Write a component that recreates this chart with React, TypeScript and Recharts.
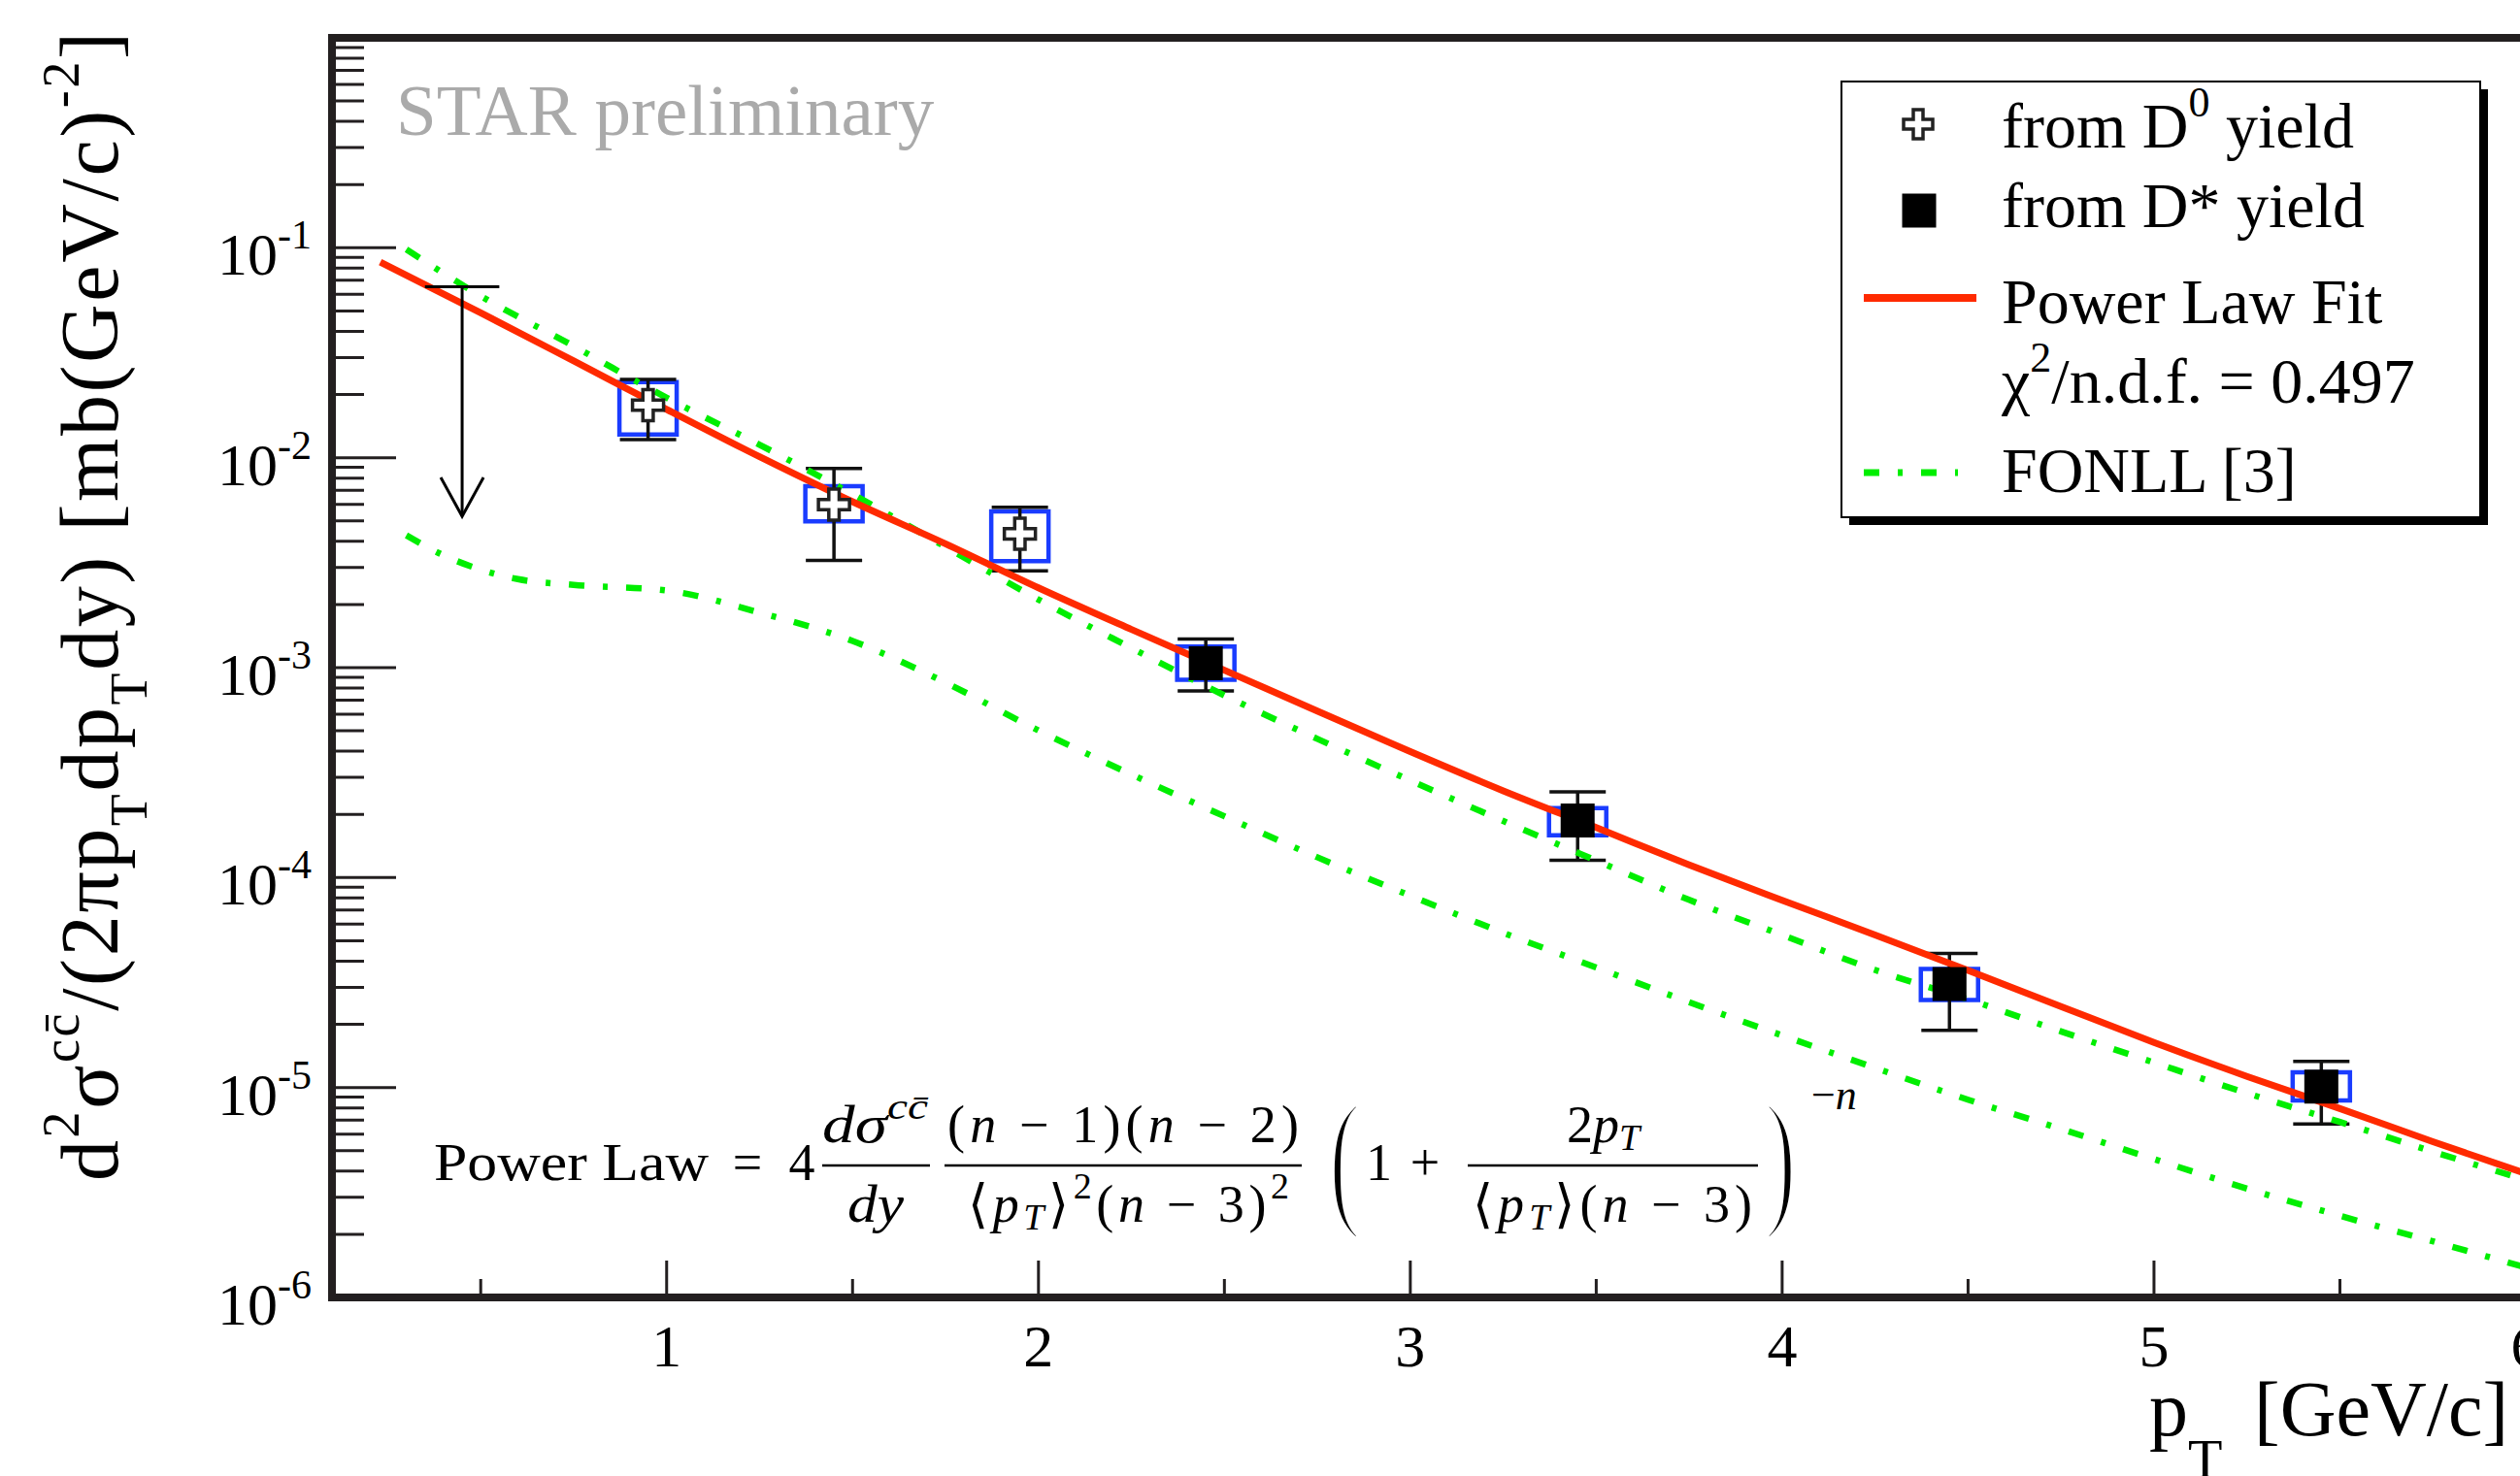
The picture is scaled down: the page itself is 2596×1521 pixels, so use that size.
import React from 'react';
import {
  ComposedChart,
  Line,
  Scatter,
  XAxis,
  YAxis,
  ErrorBar,
  ReferenceArea,
  ReferenceLine,
  Legend,
  Label,
} from 'recharts';

// charm cross section points from D0 yield (open crosses)
const d0Pt = [0.95, 1.45, 1.95];
const d0Val = [1.78e-2, 5.98e-3, 4.34e-3];
const d0StatLo = [1.22e-2, 3.24e-3, 2.89e-3];
const d0StatHi = [2.36e-2, 8.89e-3, 5.81e-3];
const d0SysLo = [1.29e-2, 4.97e-3, 3.22e-3];
const d0SysHi = [2.29e-2, 7.31e-3, 5.55e-3];

// points from D* yield (filled squares)
const dStarPt = [2.45, 3.45, 4.45, 5.45];
const dStarVal = [1.05e-3, 1.87e-4, 3.11e-5, 1.01e-5];
const dStarStatLo = [7.74e-4, 1.21e-4, 1.87e-5, 6.71e-6];
const dStarStatHi = [1.37e-3, 2.56e-4, 4.35e-5, 1.33e-5];
const dStarSysLo = [8.75e-4, 1.59e-4, 2.61e-5, 8.67e-6];
const dStarSysHi = [1.26e-3, 2.14e-4, 3.67e-5, 1.18e-5];

// upper limit in the lowest bin
const limitPt = 0.45;
const limitHalfBin = 0.1;
const limitTop = 6.52e-2;
const limitTip = 5.26e-3;

// power law fit curve
const fitPt = [0.23, 0.5, 0.75, 1, 1.25, 1.5, 1.75, 2, 2.25, 2.5, 2.75, 3, 3.25, 3.5, 3.75, 4, 4.25, 4.5, 4.75, 5, 5.25, 5.5, 5.75, 6];
const fitVal = [8.55e-2, 4.9e-2, 2.89e-2, 1.7e-2, 1.01e-2, 6.17e-3, 3.89e-3, 2.4e-3, 1.52e-3, 9.72e-4, 6.21e-4, 3.98e-4, 2.59e-4, 1.73e-4, 1.15e-4, 7.8e-5, 5.33e-5, 3.61e-5, 2.43e-5, 1.64e-5, 1.13e-5, 7.94e-6, 5.52e-6, 3.89e-6];

// FONLL band edges
const fonllHiPt = [0.3, 0.5, 0.75, 1, 1.25, 1.5, 1.75, 2, 2.25, 2.5, 2.75, 3, 3.25, 3.5, 3.75, 4, 4.25, 4.5, 4.75, 5, 5.25, 5.5, 5.75, 6];
const fonllHiVal = [9.82e-2, 5.89e-2, 3.4e-2, 1.93e-2, 1.153e-2, 6.7e-3, 3.76e-3, 2.11e-3, 1.24e-3, 7.38e-4, 4.58e-4, 2.9e-4, 1.86e-4, 1.205e-4, 7.83e-5, 5.33e-5, 3.63e-5, 2.63e-5, 1.85e-5, 1.315e-5, 9.4e-6, 6.85e-6, 4.95e-6, 3.63e-6];
const fonllLoPt = [0.3, 0.4, 0.5, 0.6, 0.75, 1, 1.25, 1.5, 1.75, 2, 2.25, 2.5, 2.75, 3, 3.25, 3.5, 3.75, 4, 4.25, 4.5, 4.75, 5, 5.25, 5.5, 5.75, 6];
const fonllLoVal = [4.27e-3, 3.43e-3, 2.93e-3, 2.64e-3, 2.48e-3, 2.33e-3, 1.83e-3, 1.34e-3, 8.49e-4, 5.02e-4, 3.1e-4, 1.96e-4, 1.25e-4, 8.2e-5, 5.46e-5, 3.73e-5, 2.55e-5, 1.77e-5, 1.24e-5, 8.75e-6, 6.35e-6, 4.56e-6, 3.3e-6, 2.45e-6, 1.85e-6, 1.39e-6];

// axis ticks
const xTicks = [0.5, 1, 1.5, 2, 2.5, 3, 3.5, 4, 4.5, 5, 5.5, 6];
const yDecades = [1e-6, 1e-5, 1e-4, 1e-3, 1e-2, 1e-1];
const yMantissas = [1, 2, 3, 4, 5, 6, 7, 8, 9];

const SERIF = "'Liberation Serif', 'DejaVu Serif', serif";
const INK = '#231f20';
const RED = '#ff2a00';
const GREEN = '#00ee00';
const BLUE = '#1a3cff';
const DASHDOT = '16 19 5 19';
const SYS_HALF = 0.077;

const PLOT_LEFT = 342;
const PLOT_BOTTOM = 1337;

const pointRows = (pt: number[], val: number[], lo: number[], hi: number[], sLo: number[], sHi: number[]) =>
  pt.map((x, i) => ({ x, y: val[i], err: [val[i] - lo[i], hi[i] - val[i]], sysLo: sLo[i], sysHi: sHi[i] }));
const curveRows = (pt: number[], val: number[]) => pt.map((x, i) => ({ x, y: val[i] }));

const d0Rows = pointRows(d0Pt, d0Val, d0StatLo, d0StatHi, d0SysLo, d0SysHi);
const dStarRows = pointRows(dStarPt, dStarVal, dStarStatLo, dStarStatHi, dStarSysLo, dStarSysHi);
const fitRows = curveRows(fitPt, fitVal);
const fonllHiRows = curveRows(fonllHiPt, fonllHiVal);
const fonllLoRows = curveRows(fonllLoPt, fonllLoVal);
const yTicks = yDecades.flatMap((d) => yMantissas.map((m) => m * d));

const isDecade = (v: number) => Math.abs(Math.log10(v) - Math.round(Math.log10(v))) < 1e-6;

function CrossMark({ cx, cy, size = 32 }: { cx: number; cy: number; size?: number }) {
  const h = size / 2;
  const a = size / 6;
  const d = `M${cx - a},${cy - h}H${cx + a}V${cy - a}H${cx + h}V${cy + a}H${cx + a}V${cy + h}H${cx - a}V${cy + a}H${cx - h}V${cy - a}H${cx - a}Z`;
  return <path d={d} fill="#fff" stroke="#222" strokeWidth={3.5} />;
}

function SquareMark({ cx, cy, size = 35 }: { cx: number; cy: number; size?: number }) {
  return <rect x={cx - size / 2} y={cy - size / 2} width={size} height={size} fill="#000" />;
}

function YTick(props: any) {
  const { y, payload } = props;
  const v = payload.value;
  const major = isDecade(v);
  return (
    <g>
      <line x1={PLOT_LEFT} x2={PLOT_LEFT + (major ? 66 : 33)} y1={y} y2={y} stroke={INK} strokeWidth={3} />
      {major && v < 0.5 && (
        <text x={224} y={y + 28} fontFamily={SERIF} fontSize={62} fill="#000">
          10
          <tspan fontSize={42} dy={-27}>{String(Math.round(Math.log10(v)))}</tspan>
        </text>
      )}
    </g>
  );
}

function XTick(props: any) {
  const { x, payload } = props;
  const v = payload.value;
  const major = Number.isInteger(v);
  return (
    <g>
      <line x1={x} x2={x} y1={PLOT_BOTTOM} y2={PLOT_BOTTOM - (major ? 38 : 19)} stroke={INK} strokeWidth={3} />
      {major && (
        <text x={x} y={1408} textAnchor="middle" fontFamily={SERIF} fontSize={62} fill="#000">
          {v}
        </text>
      )}
    </g>
  );
}

function YTitle() {
  return (
    <text
      transform="translate(121,33) rotate(-90)"
      textAnchor="end"
      fontFamily={SERIF}
      fontSize={84}
      fill="#000"
      textLength={1184}
      lengthAdjust="spacing"
    >
      d<tspan fontSize={54} dy={-40}>2</tspan>
      <tspan dy={40}>σ</tspan>
      <tspan fontSize={54} dy={-40}>cc̄</tspan>
      <tspan dy={40}>/(2πp</tspan>
      <tspan fontSize={54} dy={30}>T</tspan>
      <tspan dy={-30}>dp</tspan>
      <tspan fontSize={54} dy={30}>T</tspan>
      <tspan dy={-30}>dy) [mb(GeV/c)</tspan>
      <tspan fontSize={54} dy={-40}>-2</tspan>
      <tspan dy={40}>]</tspan>
    </text>
  );
}

function XTitle() {
  return (
    <text x={2214} y={1479} fontFamily={SERIF} fontSize={80} fill="#000">
      p<tspan fontSize={58} dy={44}>T</tspan>
      <tspan x={2322} dy={-44}>[GeV/c]</tspan>
    </text>
  );
}

function LimitArrow(p: any) {
  const { x1, y1, y2 } = p;
  const tip = Math.max(y1, y2);
  const top = Math.min(y1, y2);
  return (
    <g stroke="#000" strokeWidth={3} fill="none">
      <line x1={x1} x2={x1} y1={top} y2={tip} />
      <polyline points={`${x1 - 22},${tip - 40} ${x1},${tip} ${x1 + 22},${tip - 40}`} />
    </g>
  );
}

function LegendBox() {
  const tx = 166;
  return (
    <svg width={680} height={470} style={{ display: 'block', overflow: 'visible' }}>
      <rect x={9} y={9} width={658} height={449} fill="#000" />
      <rect x={1} y={1} width={658} height={449} fill="#fff" stroke="#000" strokeWidth={2} />
      <g fontFamily={SERIF} fontSize={66} fill="#000">
        <CrossMark cx={80} cy={45} size={30} />
        <text x={tx} y={69}>
          from D<tspan fontSize={44} dy={-32}>0</tspan>
          <tspan dy={32}> yield</tspan>
        </text>
        <SquareMark cx={81} cy={134} size={35} />
        <text x={tx} y={151}>from D* yield</text>
        <line x1={24} x2={140} y1={224} y2={224} stroke={RED} strokeWidth={8} />
        <text x={tx} y={250}>Power Law Fit</text>
        <text x={tx} y={332}>
          χ<tspan fontSize={44} dy={-32}>2</tspan>
          <tspan dy={32}>/n.d.f. = 0.497</tspan>
        </text>
        <line x1={24} x2={121} y1={404} y2={404} stroke={GREEN} strokeWidth={7} strokeDasharray={DASHDOT} />
        <text x={tx} y={424}>FONLL [3]</text>
      </g>
    </svg>
  );
}

function BigParen({ x, ch }: { x: number; ch: string }) {
  return (
    <text
      transform={`translate(${x},1245) scale(0.62,1)`}
      fontSize={157}
      stroke="#fff"
      strokeWidth={5}
    >
      {ch}
    </text>
  );
}

function Formula() {
  const base = 1216;
  const num = 1177;
  const den = 1259;
  const bar = 1201;
  return (
    <g fontFamily={SERIF} fontSize={54} fill="#000">
      <text x={447} y={base} textLength={283} lengthAdjust="spacingAndGlyphs">Power Law</text>
      <text x={770} y={base} textAnchor="middle">=</text>
      <text x={826} y={base} textAnchor="middle">4</text>

      <line x1={847} x2={958} y1={bar} y2={bar} stroke="#000" strokeWidth={2.5} />
      <text x={847} y={num} textLength={109} lengthAdjust="spacingAndGlyphs">
        <tspan fontStyle="italic">dσ</tspan>
        <tspan fontStyle="italic" fontSize={38} dy={-24}>cc̄</tspan>
      </text>
      <text x={873} y={den} fontStyle="italic" textLength={58} lengthAdjust="spacingAndGlyphs">dy</text>

      <line x1={973} x2={1341} y1={bar} y2={bar} stroke="#000" strokeWidth={2.5} />
      <text x={976} y={num} textLength={362} lengthAdjust="spacing">
        (<tspan fontStyle="italic">n</tspan> − 1)(<tspan fontStyle="italic">n</tspan> − 2)
      </text>
      <text x={997} y={den} textLength={331} lengthAdjust="spacing">
        ⟨<tspan fontStyle="italic">p</tspan>
        <tspan fontStyle="italic" fontSize={38} dy={8}>T</tspan>
        <tspan dy={-8}>⟩</tspan>
        <tspan fontSize={38} dy={-24}>2</tspan>
        <tspan dy={24}>(</tspan>
        <tspan fontStyle="italic">n</tspan> − 3)
        <tspan fontSize={38} dy={-24}>2</tspan>
      </text>

      <BigParen x={1369} ch="(" />
      <text x={1407} y={base}>1</text>
      <text x={1468} y={base} textAnchor="middle">+</text>

      <line x1={1512} x2={1811} y1={bar} y2={bar} stroke="#000" strokeWidth={2.5} />
      <text x={1614} y={num}>
        2<tspan fontStyle="italic">p</tspan>
        <tspan fontStyle="italic" fontSize={38} dy={8}>T</tspan>
      </text>
      <text x={1517} y={den} textLength={288} lengthAdjust="spacing">
        ⟨<tspan fontStyle="italic">p</tspan>
        <tspan fontStyle="italic" fontSize={38} dy={8}>T</tspan>
        <tspan dy={-8}>⟩(</tspan>
        <tspan fontStyle="italic">n</tspan> − 3)
      </text>

      <BigParen x={1818} ch=")" />
      <text x={1866} y={1143} fontSize={44}>
        −<tspan fontStyle="italic">n</tspan>
      </text>
    </g>
  );
}

export default function App() {
  return (
    <div style={{ position: 'absolute', left: 0, top: 0, width: 2596, height: 1521, overflow: 'hidden', background: '#fff' }}>
      <div style={{ position: 'relative', width: 2620, height: 1521 }}>
        <ComposedChart width={2620} height={1521} margin={{ top: 39, right: 18, bottom: 64, left: 142 }}>
          <XAxis
            type="number"
            dataKey="x"
            domain={[0.1, 6]}
            allowDataOverflow
            ticks={xTicks}
            interval={0}
            height={120}
            tickLine={false}
            tick={XTick}
            axisLine={{ stroke: INK, strokeWidth: 8, strokeLinecap: 'square' }}
          >
            <Label content={<XTitle />} />
          </XAxis>
          <YAxis
            type="number"
            scale="log"
            domain={[1e-6, 1]}
            allowDataOverflow
            ticks={yTicks}
            interval={0}
            width={200}
            tickLine={false}
            tick={YTick}
            axisLine={{ stroke: INK, strokeWidth: 8, strokeLinecap: 'square' }}
          >
            <Label content={<YTitle />} />
          </YAxis>

          {[...d0Rows, ...dStarRows].map((r) => (
            <ReferenceArea
              key={`sys-${r.x}`}
              x1={r.x - SYS_HALF}
              x2={r.x + SYS_HALF}
              y1={r.sysLo}
              y2={r.sysHi}
              fill="none"
              stroke={BLUE}
              strokeWidth={4.5}
              ifOverflow="visible"
            />
          ))}

          <Scatter data={d0Rows} dataKey="y" isAnimationActive={false} shape={(p: any) => <CrossMark cx={p.cx} cy={p.cy} />}>
            <ErrorBar dataKey="err" direction="y" width={29} stroke="#111" strokeWidth={3.5} isAnimationActive={false} />
          </Scatter>
          <Scatter data={dStarRows} dataKey="y" isAnimationActive={false} shape={(p: any) => <SquareMark cx={p.cx} cy={p.cy} />}>
            <ErrorBar dataKey="err" direction="y" width={29} stroke="#111" strokeWidth={3.5} isAnimationActive={false} />
          </Scatter>

          <Line data={fonllHiRows} dataKey="y" type="monotone" stroke={GREEN} strokeWidth={6.5} strokeDasharray={DASHDOT} dot={false} activeDot={false} isAnimationActive={false} />
          <Line data={fonllLoRows} dataKey="y" type="monotone" stroke={GREEN} strokeWidth={6.5} strokeDasharray={DASHDOT} dot={false} activeDot={false} isAnimationActive={false} />
          <Line data={fitRows} dataKey="y" type="monotone" stroke={RED} strokeWidth={7} dot={false} activeDot={false} isAnimationActive={false} />

          <ReferenceLine
            segment={[{ x: limitPt - limitHalfBin, y: limitTop }, { x: limitPt + limitHalfBin, y: limitTop }]}
            stroke="#000"
            strokeWidth={3}
          />
          <ReferenceLine segment={[{ x: limitPt, y: limitTop }, { x: limitPt, y: limitTip }]} shape={LimitArrow} />
          <ReferenceLine y={1} stroke={INK} strokeWidth={8} strokeLinecap="square" />

          <Legend
            layout="horizontal"
            align="center"
            verticalAlign="middle"
            content={() => <LegendBox />}
            wrapperStyle={{ left: 1896, top: 83, width: 680, height: 470 }}
          />
        </ComposedChart>
        <svg width={2620} height={1521} style={{ position: 'absolute', left: 0, top: 0, pointerEvents: 'none' }}>
          <text x={408} y={139} fontFamily={SERIF} fontSize={75} fill="#aaaaaa">STAR preliminary</text>
          <Formula />
        </svg>
      </div>
    </div>
  );
}
